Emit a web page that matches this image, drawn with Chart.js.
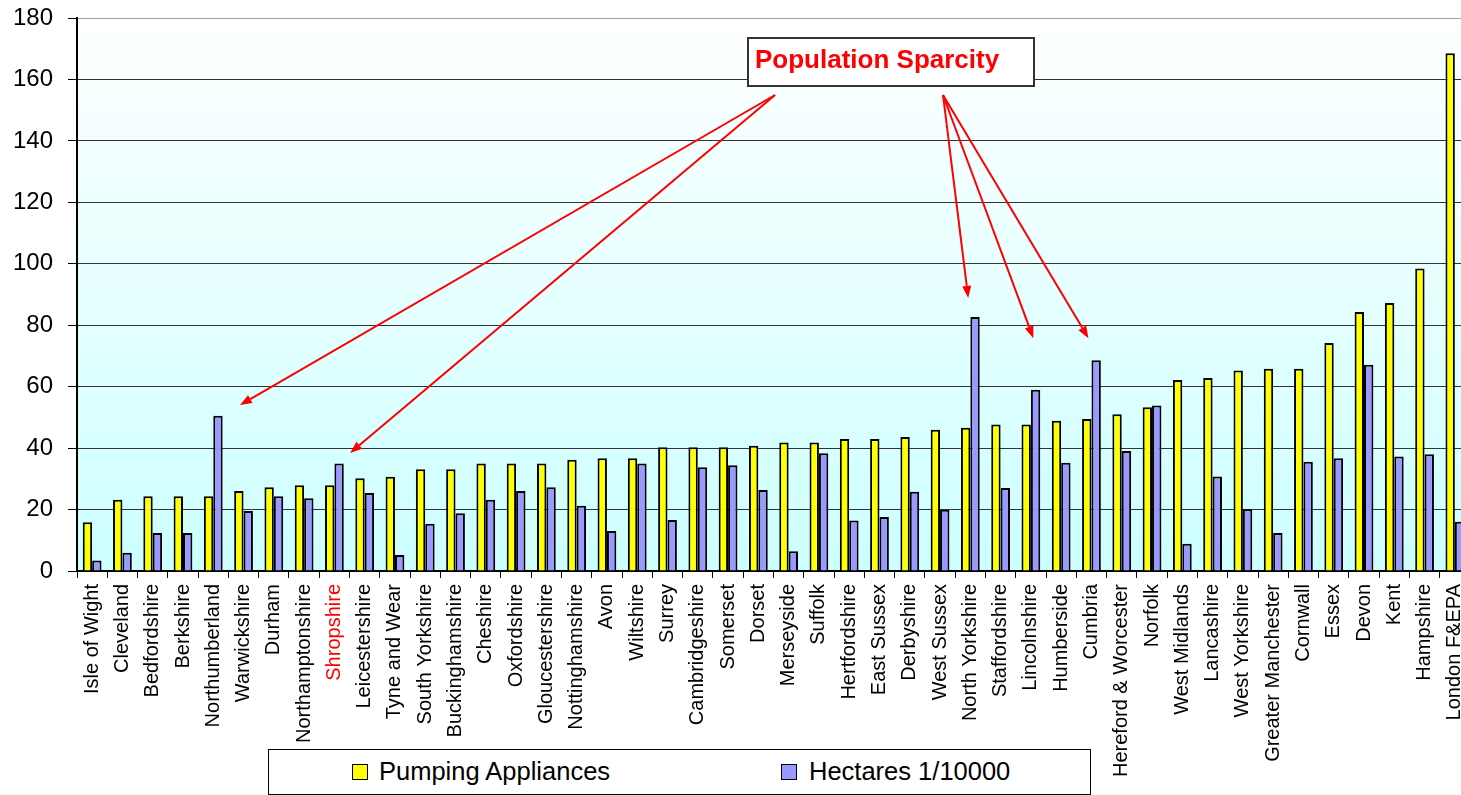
<!DOCTYPE html>
<html>
<head>
<meta charset="utf-8">
<script src="https://cdn.jsdelivr.net/npm/chart.js@4/dist/chart.umd.min.js"></script>
<style>
  html, body { margin: 0; padding: 0; background: #fff; overflow: hidden; }
  #wrap { position: relative; width: 1461px; height: 795px; overflow: hidden; }
  #chart { position: absolute; left: 0; top: 0; }
  #legend {
    position: absolute; left: 268px; top: 749px; width: 821px; height: 44px;
    border: 1px solid #000; background: #fff;
    font-family: 'Liberation Sans', Arial, sans-serif; font-size: 25.5px; color: #000;
  }
  #legend .box { position: absolute; top: 14px; width: 14px; height: 14px; border: 1px solid #000; }
  #legend .txt { position: absolute; top: 9px; line-height: 1; white-space: nowrap; }
</style>
</head>
<body>
<div id="wrap">
  <canvas id="chart" width="1470" height="795"></canvas>
  <div id="legend"></div>
</div>
<script>
  // data
  const counties = ['Isle of Wight', 'Cleveland', 'Bedfordshire', 'Berkshire', 'Northumberland', 'Warwickshire',
    'Durham', 'Northamptonshire', 'Shropshire', 'Leicestershire', 'Tyne and Wear', 'South Yorkshire',
    'Buckinghamshire', 'Cheshire', 'Oxfordshire', 'Gloucestershire', 'Nottinghamshire', 'Avon', 'Wiltshire',
    'Surrey', 'Cambridgeshire', 'Somerset', 'Dorset', 'Merseyside', 'Suffolk', 'Hertfordshire', 'East Sussex',
    'Derbyshire', 'West Sussex', 'North Yorkshire', 'Staffordshire', 'Lincolnshire', 'Humberside', 'Cumbria',
    'Hereford & Worcester', 'Norfolk', 'West Midlands', 'Lancashire', 'West Yorkshire', 'Greater Manchester',
    'Cornwall', 'Essex', 'Devon', 'Kent', 'Hampshire', 'London F&EPA'];

  const pumpingAppliances = [15.9, 23.2, 24.3, 24.3, 24.3, 26.0, 27.3, 27.9, 27.9, 30.2, 30.7, 33.1,
    33.1, 35.0, 35.0, 35.0, 36.2, 36.7, 36.7, 40.3, 40.3, 40.3, 40.8, 41.8, 41.8, 43.0, 43.0,
    43.6, 46.0, 46.6, 47.7, 47.7, 48.9, 49.5, 51.0, 53.3, 62.2, 62.8, 65.3, 65.8,
    65.8, 74.2, 84.3, 87.2, 98.5, 168.5];

  const hectares = [3.4, 5.9, 12.4, 12.4, 50.5, 19.5, 24.3, 23.7, 35.0, 25.4, 5.2, 15.4,
    18.8, 23.2, 26.0, 27.3, 21.2, 13.0, 35.0, 16.6, 33.8, 34.4, 26.4, 6.4, 38.3, 16.4, 17.6,
    25.8, 19.9, 82.7, 27.0, 59.0, 35.2, 68.6, 39.1, 53.9, 8.9, 30.8, 20.1, 12.4,
    35.6, 36.7, 67.1, 37.3, 38.0, 16.0];

  const yTicks = [0, 20, 40, 60, 80, 100, 120, 140, 160, 180];
  const highlighted = 'Shropshire';

  // callout arrows: tip at (category index, value)
  const calloutText = 'Population Sparcity';
  const arrowTips = [
    { from: 0, index: 4.88, value: 54.0 },
    { from: 0, index: 8.52, value: 38.4 },
    { from: 1, index: 28.93, value: 88.9 },
    { from: 1, index: 31.08, value: 75.8 },
    { from: 1, index: 32.9, value: 75.8 }
  ];

  const FONT = "'Liberation Sans', Arial, sans-serif";

  const plotBackground = {
    id: 'plotBackground',
    beforeDraw(chart) {
      const { ctx, chartArea: a } = chart;
      const g = ctx.createLinearGradient(0, a.top, 0, a.bottom);
      g.addColorStop(0, '#ffffff');
      g.addColorStop(1, '#ccffff');
      ctx.save();
      ctx.fillStyle = g;
      ctx.fillRect(a.left, a.top, a.right - a.left, a.bottom - a.top);
      ctx.restore();
    }
  };

  const callout = {
    id: 'callout',
    afterDraw(chart) {
      const { ctx } = chart;
      const x = chart.scales.x, y = chart.scales.y;
      const origins = [[775, 95], [943, 95]];
      ctx.save();
      ctx.strokeStyle = '#ff0000';
      ctx.fillStyle = '#ff0000';
      ctx.lineWidth = 2;
      arrowTips.forEach(t => {
        const [sx, sy] = origins[t.from];
        const ex = x.getPixelForValue(t.index);
        const ey = y.getPixelForValue(t.value);
        const ang = Math.atan2(ey - sy, ex - sx);
        const len = 12, half = 4.5;
        const bx = ex - len * Math.cos(ang), by = ey - len * Math.sin(ang);
        ctx.beginPath();
        ctx.moveTo(sx, sy);
        ctx.lineTo(bx, by);
        ctx.stroke();
        ctx.beginPath();
        ctx.moveTo(ex, ey);
        ctx.lineTo(bx + half * Math.sin(ang), by - half * Math.cos(ang));
        ctx.lineTo(bx - half * Math.sin(ang), by + half * Math.cos(ang));
        ctx.closePath();
        ctx.fill();
      });
      // text box
      ctx.fillStyle = '#fff';
      ctx.fillRect(748, 38, 286, 48);
      ctx.strokeStyle = '#333';
      ctx.lineWidth = 2;
      ctx.strokeRect(748, 38, 286, 48);
      ctx.fillStyle = '#ff0000';
      ctx.font = 'bold 26px ' + FONT;
      ctx.textBaseline = 'alphabetic';
      ctx.fillText(calloutText, 755, 68);
      ctx.restore();
    }
  };

  const chart = new Chart(document.getElementById('chart'), {
    type: 'bar',
    data: {
      labels: counties,
      datasets: [
        { label: 'Pumping Appliances', data: pumpingAppliances, backgroundColor: '#ffff00' },
        { label: 'Hectares 1/10000', data: hectares, backgroundColor: '#9999ff' }
      ]
    },
    options: {
      responsive: false,
      animation: false,
      devicePixelRatio: 1,
      layout: { padding: { top: 18, left: 0, right: 0, bottom: 0 } },
      datasets: {
        bar: { borderColor: '#000', borderWidth: 2, categoryPercentage: 0.62, barPercentage: 1.0 }
      },
      plugins: { legend: { display: false }, tooltip: { enabled: false } },
      scales: {
        x: {
          afterFit: s => { s.height = 224; s.paddingLeft = 0; s.paddingRight = 0; },
          grid: { offset: true, drawOnChartArea: false, color: '#000', tickLength: 7 },
          border: { color: '#000', width: 2 },
          ticks: {
            autoSkip: false, minRotation: 90, maxRotation: 90, padding: 6,
            font: { family: FONT, size: 20 },
            color: c => counties[c.index] === highlighted ? '#ff0000' : '#000'
          }
        },
        y: {
          min: 0, max: 180,
          afterFit: s => { s.width = 77; s.paddingTop = 0; s.paddingBottom = 0; },
          afterBuildTicks: s => { s.ticks = yTicks.map(v => ({ value: v })); },
          grid: {
            color: c => c.tick && c.tick.value === 180 ? '#a0a0a0' : '#333',
            tickColor: '#000', tickLength: 9, lineWidth: 1
          },
          border: { color: '#000', width: 2 },
          ticks: { padding: 15, font: { family: FONT, size: 24 }, color: '#000' }
        }
      }
    },
    plugins: [plotBackground, callout]
  });

  // legend built from the datasets
  const legend = document.getElementById('legend');
  const spots = [[83, 110], [512, 540]];
  chart.data.datasets.forEach((ds, i) => {
    legend.innerHTML += `<div class="box" style="left:${spots[i][0]}px;background:${ds.backgroundColor}"></div>
      <div class="txt" style="left:${spots[i][1]}px">${ds.label}</div>`;
  });
</script>
</body>
</html>
